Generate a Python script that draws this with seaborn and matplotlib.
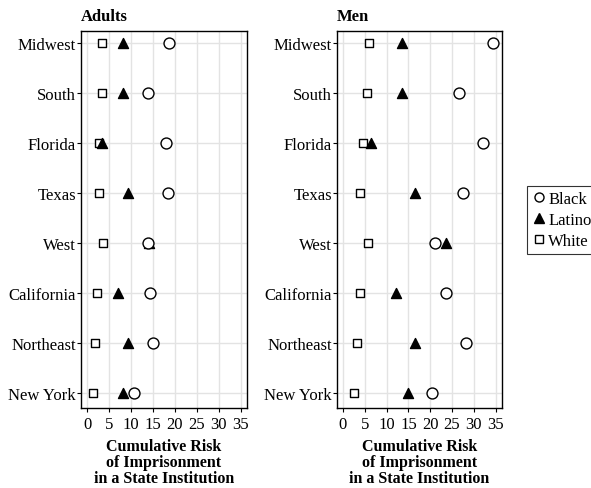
import matplotlib
matplotlib.use("Agg")
import matplotlib.pyplot as plt
from matplotlib.lines import Line2D
import pandas as pd
import seaborn as sns

# Regions, top to bottom
regions = ["Midwest", "South", "Florida", "Texas", "West",
           "California", "Northeast", "New York"]

# Cumulative risk of imprisonment (%)
adults_black = [18.7, 13.9, 17.9, 18.4, 13.9, 14.2, 14.9, 10.7]
adults_latino = [8.2, 8.1, 3.4, 9.4, 14.0, 7.1, 9.4, 8.1]
adults_white = [3.4, 3.3, 2.7, 2.7, 3.6, 2.2, 1.8, 1.3]

men_black = [34.5, 26.5, 32.1, 27.5, 21.1, 23.7, 28.3, 20.3]
men_latino = [13.6, 13.5, 6.4, 16.5, 23.7, 12.2, 16.6, 14.9]
men_white = [6.0, 5.6, 4.7, 3.8, 5.7, 3.8, 3.3, 2.5]

xticks = [0, 5, 10, 15, 20, 25, 30, 35]


def make_df(black, latino, white):
    rows = []
    for race, vals in [("Black", black), ("Latino", latino), ("White", white)]:
        for reg, v in zip(regions, vals):
            rows.append({"region": reg, "risk": v, "race": race})
    return pd.DataFrame(rows)


df_adults = make_df(adults_black, adults_latino, adults_white)
df_men = make_df(men_black, men_latino, men_white)

sns.set_style("white")
plt.rcParams["font.family"] = ["Liberation Serif", "DejaVu Serif"]
plt.rcParams["font.size"] = 12
plt.rcParams["text.color"] = "black"
plt.rcParams["axes.labelcolor"] = "black"
plt.rcParams["xtick.color"] = "black"
plt.rcParams["ytick.color"] = "black"

styles = {
    "Black": dict(marker="o", facecolor="white", s=62),
    "Latino": dict(marker="^", facecolor="black", s=52),
    "White": dict(marker="s", facecolor="white", s=34),
}

fig = plt.figure(figsize=(5.91, 4.89), dpi=100)
ax1 = fig.add_axes([0.137, 0.164, 0.281, 0.771])
ax2 = fig.add_axes([0.570, 0.164, 0.279, 0.771])

for ax, df, title in [(ax1, df_adults, "Adults"), (ax2, df_men, "Men")]:
    ax.set_yticks(range(len(regions)))
    ax.set_yticklabels(regions)
    for race in ["White", "Latino", "Black"]:
        sub = df[df["race"] == race].copy()
        sub["y"] = [regions.index(r) for r in sub["region"]]
        st = styles[race]
        sns.scatterplot(data=sub, x="risk", y="y", marker=st["marker"],
                        s=st["s"], facecolor=st["facecolor"],
                        edgecolor="black", linewidth=1.0, ax=ax,
                        zorder=3, legend=False)
    ax.set_xlim(-1.4, 36.4)
    ax.set_ylim(7.3, -0.25)
    ax.set_xticks(xticks)
    ax.grid(True, color="#e3e3e3", linewidth=1.0)
    ax.set_axisbelow(True)
    for sp in ax.spines.values():
        sp.set_color("black")
        sp.set_linewidth(1.0)
    ax.tick_params(axis="both", which="both", length=3, width=0.8,
                   color="black", labelsize=12,
                   left=True, bottom=True)
    ax.tick_params(axis="y", pad=0.5)
    ax.tick_params(axis="x", pad=3)
    ax.set_ylabel("")
    ax.set_xlabel("Cumulative Risk\nof Imprisonment\nin a State Institution",
                  fontweight="bold", fontsize=11.5, linespacing=1.0,
                  labelpad=4)
    ax.set_title(title, loc="left", fontweight="bold", fontsize=12, pad=8)

handles = [
    Line2D([], [], linestyle="none", marker="o", markerfacecolor="white",
           markeredgecolor="black", markersize=6.5, label="Black"),
    Line2D([], [], linestyle="none", marker="^", markerfacecolor="black",
           markeredgecolor="black", markersize=6.5, label="Latino"),
    Line2D([], [], linestyle="none", marker="s", markerfacecolor="white",
           markeredgecolor="black", markersize=5.5, label="White"),
]
leg = fig.legend(handles=handles, loc="upper left",
                 bbox_to_anchor=(0.891, 0.618), frameon=True,
                 fancybox=False, handletextpad=0.1, handlelength=0.9,
                 borderpad=0.3, labelspacing=0.3, borderaxespad=0,
                 fontsize=12)
leg.get_frame().set_edgecolor("black")
leg.get_frame().set_linewidth(0.8)

fig.savefig("out.png", dpi=100)
